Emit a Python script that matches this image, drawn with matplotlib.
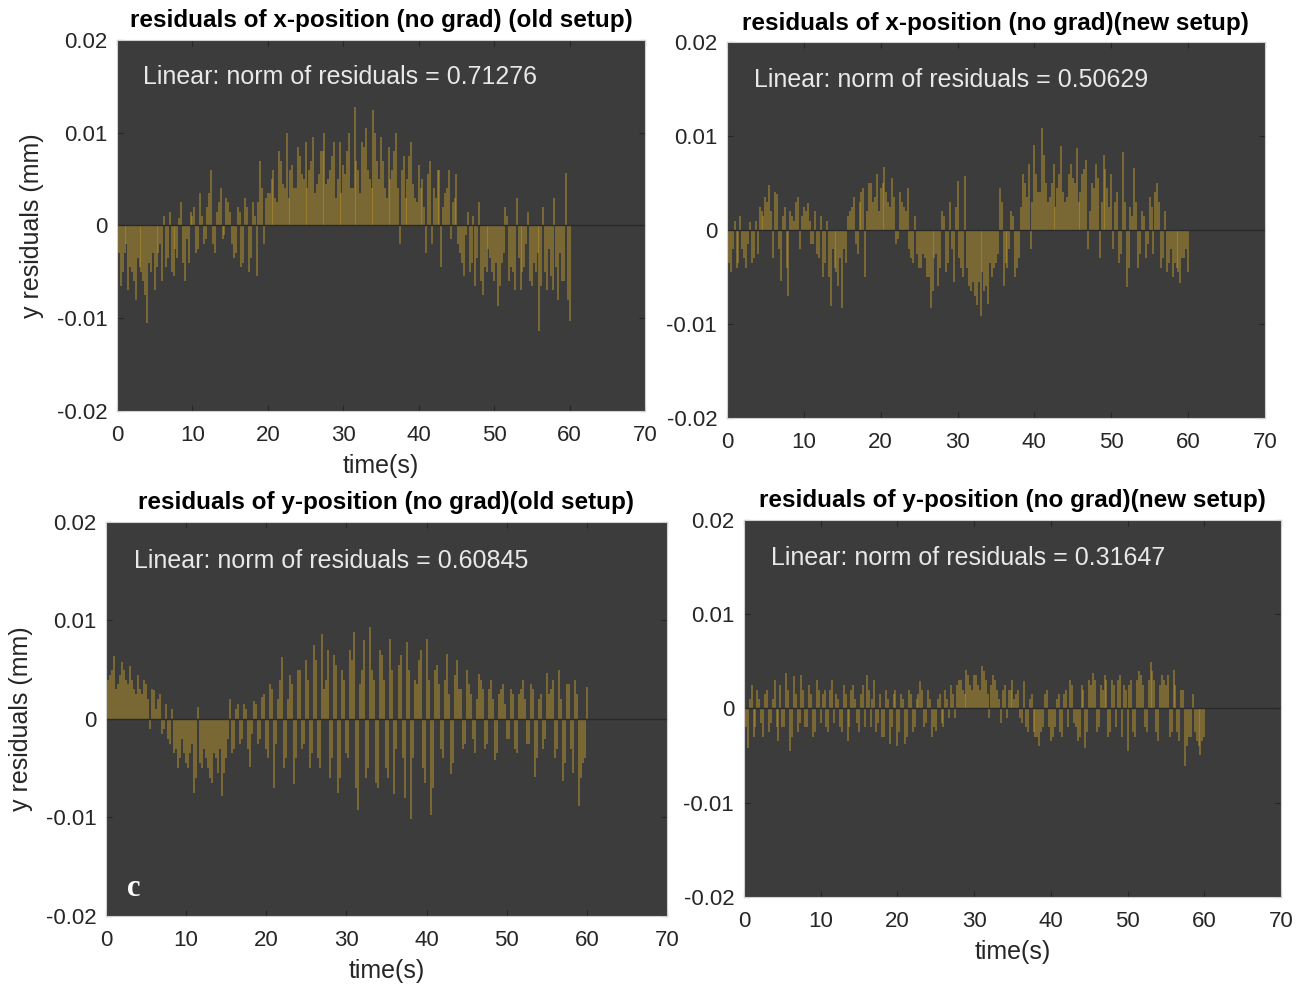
import numpy as np
import matplotlib
matplotlib.use('Agg')
import matplotlib.pyplot as plt

# tiempos de muestreo (s): dos rejillas intercaladas
t_a = np.arange(0, 60.01, 0.5)
t_b = np.arange(0.25, 60, 0.5)

# residuos (x 1e-3 mm)
res_x_old = [-4, -6.5, -3, -7, -5, -8, -4.5, -6, -10.5, -5, -7,
             -3, -6, -4.5, 1.5, -5.5, -3.5, 2.5, -6, -4, 1,
             -3, 3.5, -2, 2, 6, -3, 2.5, -1.5, 3, 1.5,
             -3.5, 2, -4.5, 3, -5, 2.5, -5.5, 7, -2, 3.5,
             5, 3, 8, 4.5, 10, 6, 4, 8.5, 5.5, 9,
             6, 9.5, 4.5, 8, 10, 5, 7.5, 3, 9, 6.5,
             8, 4, 12.8, 6, 9, 10.5, 5, 12.4, 7, 9.5,
             4, 8.5, 6, 10, -2, 7.5, 5, 9, 3, 6.5,
             5, -3, 7, 4, 6, -4.5, 3.5, 6, 2.5, 5.5,
             -3, -5.5, 1.5, -4, -6.5, 2.5, -7.5, -5, -3.5, -6,
             -8.7, -4, 2, -6, -5, 3, -7, -4.5, 1.5, -6.5,
             -5, -11.4, 2, -7, -5.5, 3, -8, -6, 5.7, -10.3]
res_x_old_b = [-3, -5, -2, -4.5, -6, -3.5, -5, -7.5, -4, -3,
               -4.5, -2, 1, -3.5, -5, -2.5, 0.8, -4, -1.5, 1.5,
               2, -2.5, 1, -1.5, 3.5, -2, 1.5, 4, -1, 2.5,
               -2, -3, 1.5, -4, 2, -3.5, 1, 2.5, 4, 3,
               3.5, 6, 2.5, 7, 4, 3, 6.5, 4, 7.5, 5,
               4, 7, 3.5, 5.5, 8, 4.5, 6, 9, 5, 3.5,
               5.5, 10, 4, 7, 3.5, 8.5, 6, 4, 10, 5,
               7, 3, 5, 8, 4, 6, 3, 7.5, 4.5, 2.5,
               4, 2, 5.5, -2, 3, 6, 2, 4, -1.5, 3,
               -2, -4, -1, -5, 1, -3.5, -6, -4.5, -2.5, -5,
               -4, -6.5, -3, 1, -4.5, -7, -3.5, -5, -2, -6,
               -4, -3, -6.5, -5, -2.5, -7, -4.5, -3, -6, -8]

res_x_new = [-2.5, -4.5, 1, -3.5, -2, -4, 0.8, -3, -2.5, 2, 3.5,
             4.8, -3, 3.8, -5.4, 2.5, -7, 1.5, 3, -2, 2.5,
             2.9, -1.5, 2, -3, -5, 1, -8.1, -4, -6, -8.3,
             -3.5, 2, 3.5, -2.5, 4, -5, 5, 3, 6, 4.5,
             6.7, 3, 5.5, -1.5, 4, 2.5, 4.5, -3, 1.5, -4,
             -2.5, -5, -8.3, -3, -6, 2, -4.5, 3, -5.5, 5.2,
             -4, 5.7, -6, -5.5, -8, -9.2, -6.5, -7.9, -5, -3.5,
             4.5, -6, -4, 2, -5, -3, 6, 3.5, -2, 9,
             4, 10.8, 5, 3.5, 7, 4.5, 8.9, 3, 6, 5.5,
             8.7, 4, 6.5, -2, 5, 7, -3, 8, 4.5, 6,
             3, -3.5, 8.3, -6.1, 2.5, 6.6, -4, 2, -3, 3.5,
             -2.5, 5, -4, 2, -3.5, -5, -4, -5.6, -3, -4.5]
res_x_new_b = [-3.5, -2, -4, 1.5, -3, -1.5, -3.5, 1, 2.5, 1.5,
               3, 2, 4, -2, 1.5, -4, 2, 1, 3.5, 1.5,
               2, 1, -1.5, -2.5, 1.5, -3.5, -5, -2, -4.5, -3,
               -2, 1.5, 2.5, -1.5, 3, 4.5, 2, 5, 3.5, 2,
               5, 4, 2.5, 3.5, -1, 3, 2, -2, -3.5, -2.5,
               -4, -3, -5, -6.5, -2.5, -4, 1.5, -3.5, -2, 2.5,
               -3, -5, -4, -6.5, -7, -5.5, -4.5, -6, -3.5, -4,
               -2.5, 3, -3.5, -2, 1.5, -4, 2.5, 5, 7, 3,
               6, 4, 8, 3, 5, 2.5, 6, 4, 3.5, 7,
               5, 3, 6, 7.5, 2, 4.5, 5.5, 3, 6.5, 2.5,
               -2, 4, -2.5, 3, -4, 1.5, 3, -2.5, 1.5, -1.5,
               2.5, 4, 3, -3, -4.5, -2, -3.5, -4.5, -3, -2]

res_y_old = [5.5, 4.5, 6.4, 3.5, 5.8, 4, 5.4, 3, 4.5, 2.5, 3.6,
             -1, 2.9, 2, -1.5, 1.5, -2.5, -3.5, -5, -2, -4.5,
             -3.5, -7.5, 1.2, -5, -4, -6, -3.5, -5.5, -7.8, -4,
             2, -3, 1.5, -2, 1, -4.9, 1.8, -2.5, 2.2, -3,
             3.5, -7, 2, 6.3, -4, 4.5, -6.6, 5, -3, 6,
             -5, 7.5, -4, 8.6, 4, -6, 6.5, -7.5, 5, -3.5,
             7, 8.8, -9.2, 5, -6, 9.3, 4, -7, 6.5, -5,
             8.1, -7.6, 5.5, -4, 7.8, -10.2, 4, 6, -5, 8.1,
             -9.7, 5, 3.5, -4, 6.6, -5.6, 4.5, 3, -3, 5,
             2.5, -3.5, 4.6, 3, -2.5, 4, -4.2, 2.5, 3.5, -2,
             3, -3, 2.5, 4, -2.5, 3.5, -5.9, 2, -3, 4.7,
             3, -4, 5, -6.3, 3.5, -3, 4, -8.8, -4.5, 3.2]
res_y_old_b = [4, 5, 3, 4.5, 5, 3.5, 4, 2.5, 3, 4,
               2, 3, 1, 2.5, -1, -2, 1, -3, -4, -3.5,
               -5, -2.5, -6, -4.5, -3, -5, -6.5, -4, -3, -5.5,
               -2, -3.5, 1, -2.5, 1.5, -3, -1.5, 1.5, -2, 2.5,
               -4, 3, -2.5, 4, -5, 2, 3.5, -4, 5, -2.5,
               4, -3.5, 6, -5, 3, 7, -4, 5.5, -6, 4,
               -4, 6, -7, 3.5, 8, -5, 5, -6.5, 7, 4,
               -6, 5, -3, 6.5, -8, 5, -4, 3.5, 7, -6.5,
               4, -7, 5.5, -3, 4, 2.5, -4.5, 6, 3, -2.5,
               3.5, -2, 2, 4, -3, 3, 2, -3.5, 3, 1.5,
               -2, 2.5, -3.5, 3, 2, -2.5, 3, -4, 2.5, -2,
               2.5, 4, -3, 2, -4.5, 3.5, -5.5, 2.5, -6, -4]

res_y_new = [1.5, -4.2, 2.5, -2, 1, -3, 2, -1.5, 3, -3.5, -2,
             3.8, -4.5, 3.4, -2.5, 3.6, -2, 2.5, -3, 3, -1.5,
             2, -2.5, 3, 1.5, -2, 2.5, -3.5, 2, 1, -2.5,
             2.5, 3.6, -2, 3, -1.5, -3, 2, -3.8, 1.5, -4,
             1.5, -3.8, 2, -2.5, 1, 2.9, -2, 2, -3, -2.4,
             1.5, -2, 1, 2.5, -1, 3, 2, 4.1, 2.5, 3.5,
             2.5, 4.5, 3, -1, 3.5, 2, -1.5, 2.5, 2, 3,
             1.5, -1, 2.9, -2.5, 1.5, -3, -4, -2, 2, -3.5,
             -2, 1.5, -3, 2, 3, -1.5, -3.5, 2.5, -4.2, 3,
             3.8, -2.5, 2.5, 3.5, -3, 3, -2, 3.5, 2.5, -4.5,
             3, -3, 4, 2.5, -2.5, 4.9, 3, -3.5, 3.5, 2.5,
             -3, 4.1, -2.5, 2, -6.1, -3, 1.5, -3.5, -4.9, -3]
res_y_new_b = [-2, 1, -3, 2, -1.5, 1.5, -2.5, 1, -2, 2.5,
               -2, 2, -3, 1.5, -1.5, 2, -2, 1.5, -2.5, 2,
               1.5, -2, 2, -1.5, 1, -2.5, 1.5, -2, 2.5, -1.5,
               1.5, -2, 2, 1, -2.5, 1.5, -3, 1, -2, 2,
               -2.5, 1, -3, 1.5, -2, 1.5, 2, -1.5, 1, -2,
               1, -1.5, 2, -1, 1.5, 2.5, 3, 1.5, 3.5, 2,
               3.5, 2, 4, 1.5, 2.5, 3, 1, 2, -1, 2,
               1, 2, -1.5, -2, 1, -2.5, -3, -2.5, 1.5, -2,
               -3, 1, -2.5, 1.5, -2, 2.5, -2, -3, 2, -2.5,
               2.5, 3, -2, 2, 3, -2.5, 2.5, 3, -3, 2,
               2.5, -2.5, 3, 3.5, -2, 3, 4, -2.5, 2.5, 3,
               3.5, -2.5, 2.5, -3.5, 2, -4, -3, -2.5, -4, -3.5]

titles = ['residuals of x-position (no grad) (old setup)',
          'residuals of x-position (no grad)(new setup)',
          'residuals of y-position (no grad)(old setup)',
          'residuals of y-position (no grad)(new setup)']
norms = ['0.71276', '0.50629', '0.60845', '0.31647']

plt.rcParams['font.family'] = ['Liberation Sans', 'DejaVu Sans']

fig = plt.figure(figsize=(13.07, 9.91), dpi=100)
fig.patch.set_facecolor('white')

# posiciones de los ejes [left, bottom, width, height]
boxes = [[0.0895, 0.5853, 0.4040, 0.3744],
         [0.5562, 0.5782, 0.4116, 0.3794],
         [0.0811, 0.0757, 0.4292, 0.3976],
         [0.5692, 0.0949, 0.4109, 0.3804]]

series = [(res_x_old, res_x_old_b), (res_x_new, res_x_new_b),
          (res_y_old, res_y_old_b), (res_y_new, res_y_new_b)]
bar_color = '#c29a2c'
text_color = '#262626'

for i in range(4):
    ax = fig.add_axes(boxes[i])
    ax.set_facecolor('#3c3c3c')
    va = np.array(series[i][0]) * 1e-3
    vb = np.array(series[i][1]) * 1e-3
    ax.vlines(t_a, 0, va, color=bar_color, linewidth=1.1, alpha=0.6)
    ax.vlines(t_b, 0, vb, color=bar_color, linewidth=1.1, alpha=0.6)
    ax.axhline(0, color='#2a2a2a', linewidth=1.0)
    ax.set_xlim(0, 70)
    ax.set_ylim(-0.02, 0.02)
    ax.set_xticks(np.arange(0, 71, 10))
    ax.set_yticks([-0.02, -0.01, 0, 0.01, 0.02])
    ax.set_yticklabels(['-0.02', '-0.01', '0', '0.01', '0.02'])
    ax.tick_params(direction='in', length=4, width=0.8, colors='#262626',
                   labelcolor=text_color, labelsize=16, top=True, right=True,
                   pad=7)
    ax.tick_params(axis='x', pad=10)
    for sp in ax.spines.values():
        sp.set_color('#d0d0d0')
        sp.set_linewidth(0.8)
    ax.set_title(titles[i], fontsize=17.5, fontweight='bold', color='black', pad=9)
    ax.text(0.05, 0.90, 'Linear: norm of residuals = ' + norms[i],
            transform=ax.transAxes, color='#e8e8e8', fontsize=18, va='center')
    if i in (0, 2):
        ax.set_ylabel('y residuals (mm)', fontsize=18, color=text_color, labelpad=9)
    if i in (0, 2, 3):
        ax.set_xlabel('time(s)', fontsize=18, color=text_color, labelpad=6)
    if i == 2:
        ax.text(0.037, 0.05, 'c', transform=ax.transAxes, color='white',
                fontsize=22, fontweight='bold', family='Liberation Serif')

plt.savefig('out.png', dpi=100)
plt.close()
